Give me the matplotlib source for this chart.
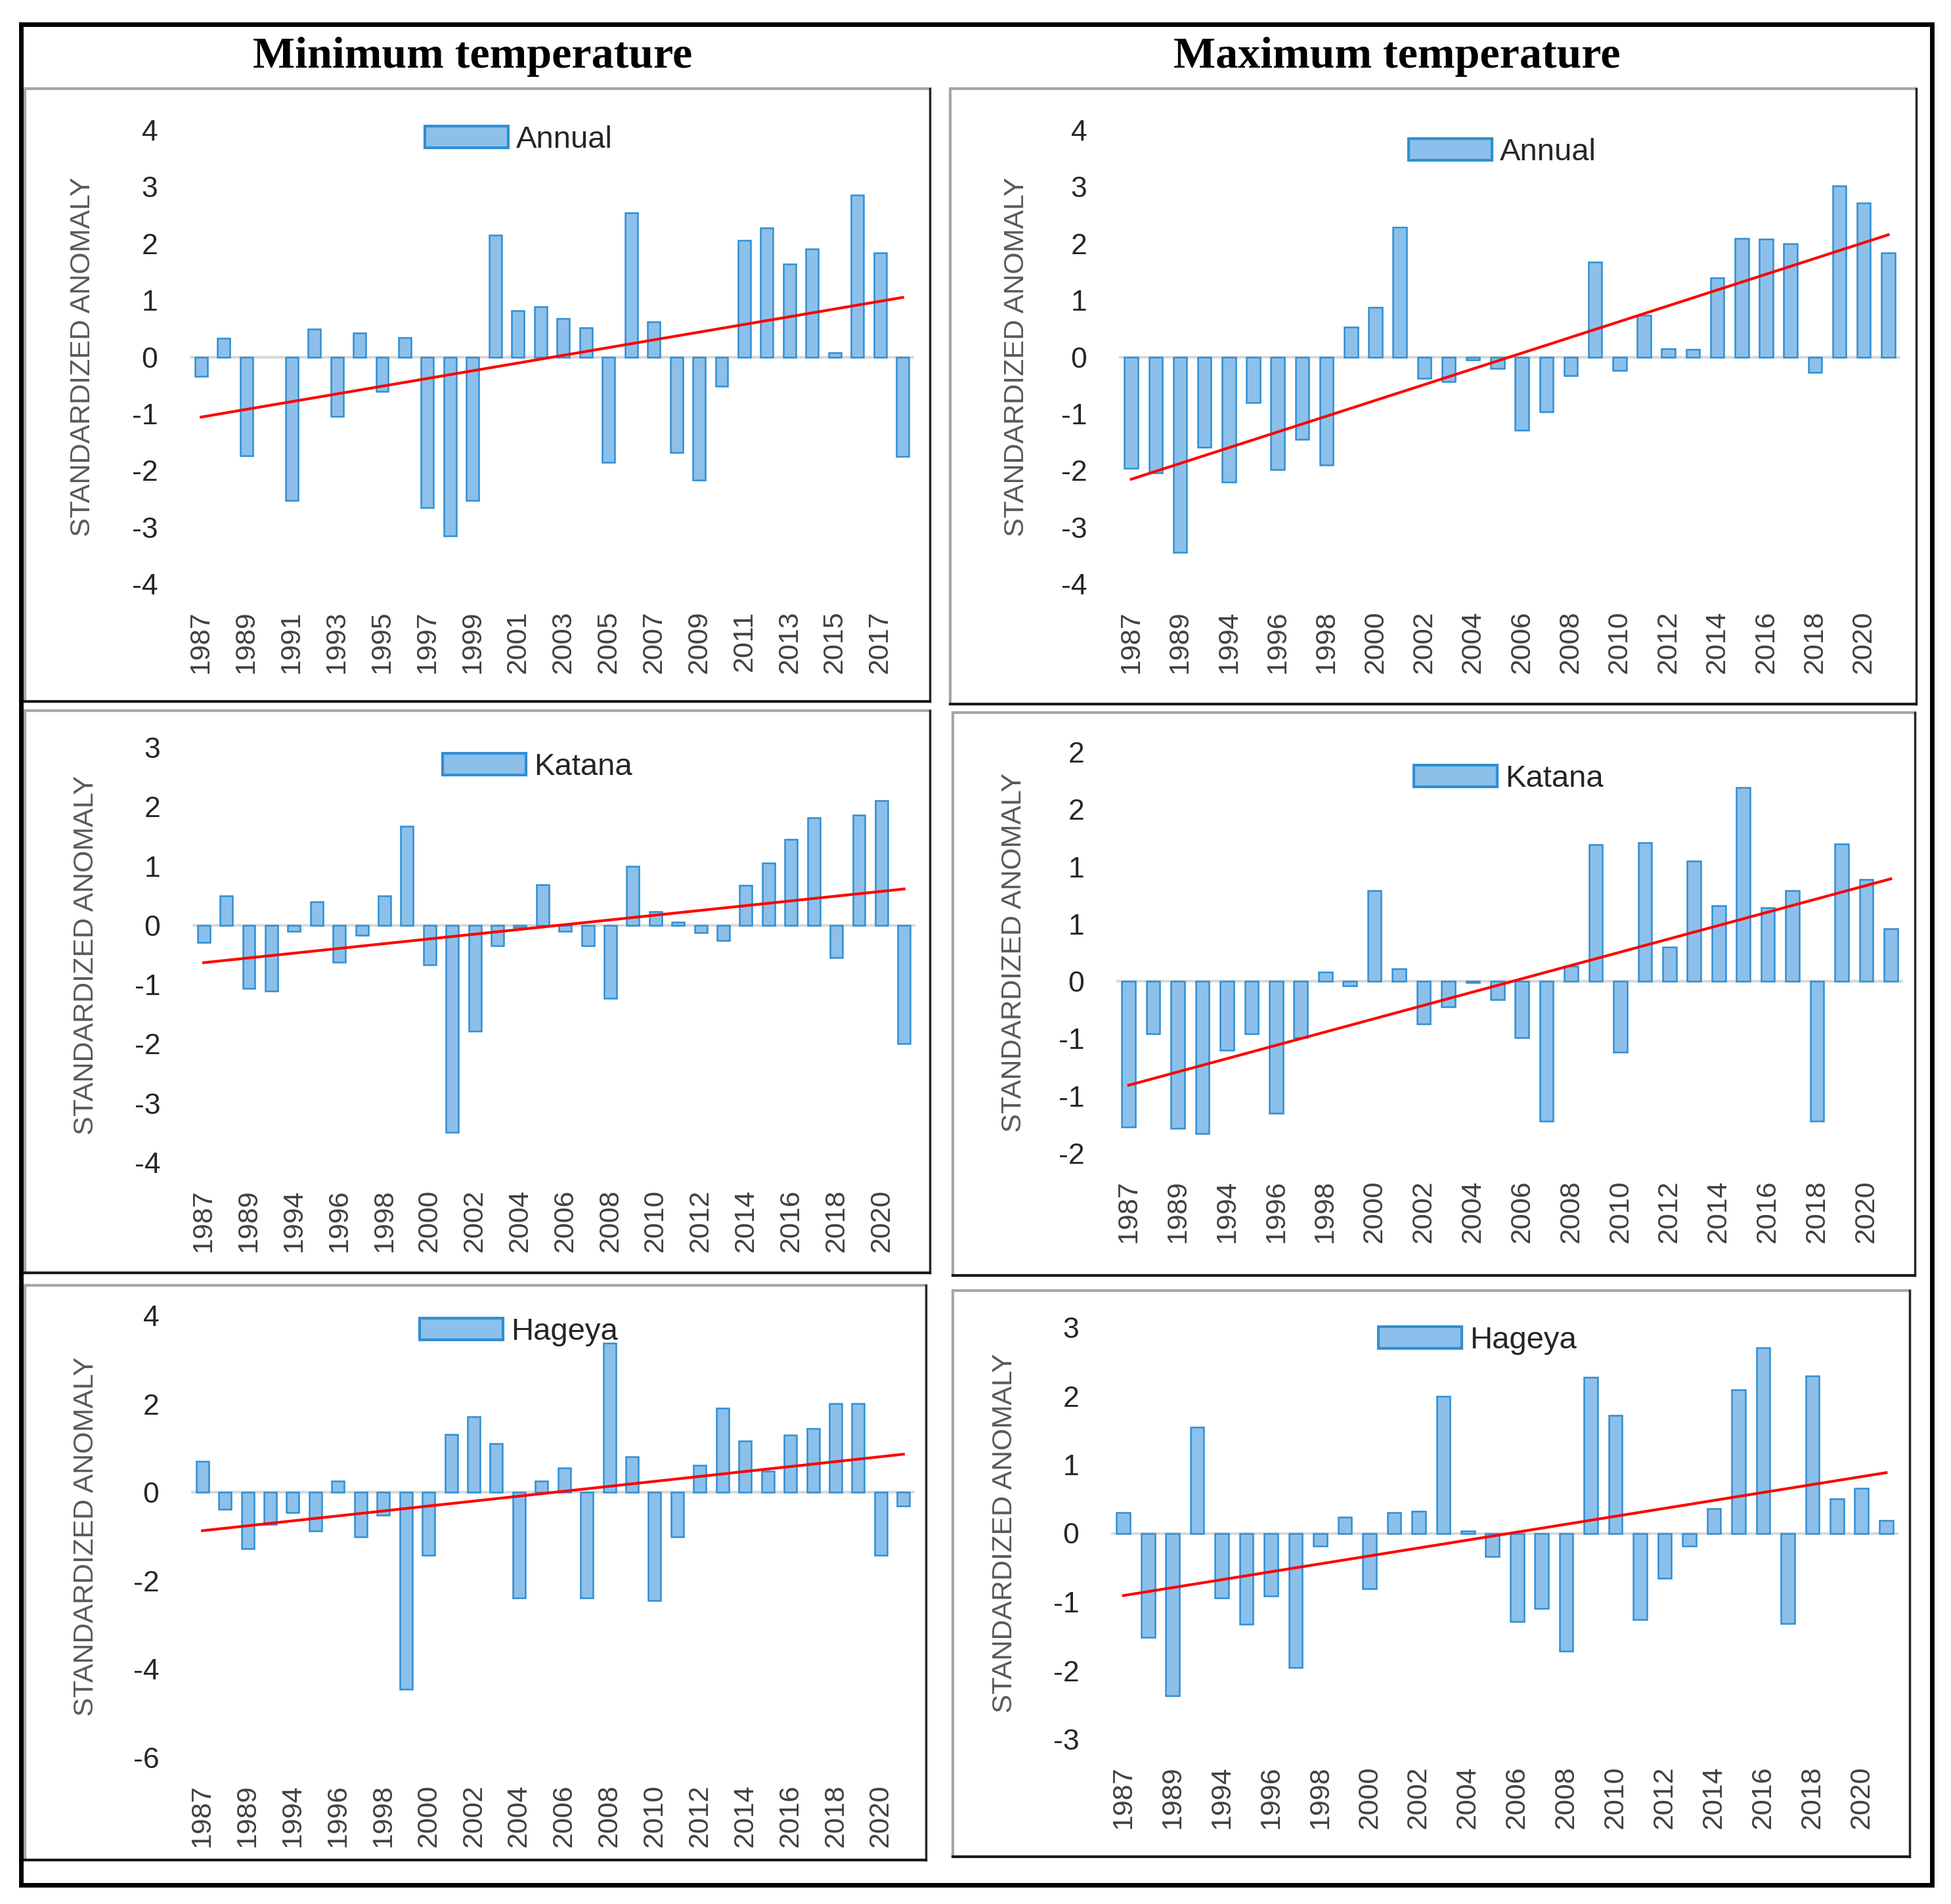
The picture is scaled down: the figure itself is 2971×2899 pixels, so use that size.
import numpy as np
import matplotlib
matplotlib.use("Agg")
import matplotlib.pyplot as plt
from matplotlib.patches import Patch
from matplotlib.lines import Line2D

# ---------------- data ----------------
years_min_annual = list(range(1987, 2019))
years_station = [1987, 1988, 1989, 1990] + list(range(1994, 2022))

min_annual = [-0.34, 0.33, -1.74, 0.0, -2.53, 0.49, -1.05, 0.42, -0.61, 0.34, -2.66, -3.16,
              -2.53, 2.15, 0.82, 0.88, 0.68, 0.51, -1.86, 2.54, 0.62, -1.69, -2.17, -0.51,
              2.06, 2.28, 1.64, 1.91, 0.08, 2.85, 1.84, -1.75]
max_annual = [-1.96, -2.04, -3.44, -1.59, -2.21, -0.80, -1.99, -1.45, -1.90, 0.53, 0.87, 2.29,
              -0.38, -0.43, -0.05, -0.20, -1.29, -0.97, -0.33, 1.67, -0.24, 0.73, 0.15, 0.13,
              1.40, 2.09, 2.08, 2.00, -0.27, 3.02, 2.72, 1.83]
min_katana = [-0.29, 0.50, -1.06, -1.11, -0.10, 0.40, -0.62, -0.17, 0.50, 1.67, -0.67, -3.49,
              -1.78, -0.35, -0.03, 0.69, -0.10, -0.35, -1.23, 1.00, 0.23, 0.05, -0.12, -0.26,
              0.67, 1.05, 1.45, 1.82, -0.54, 1.86, 2.10, -2.00]
max_katana = [-1.27, -0.46, -1.28, -1.33, -0.60, -0.46, -1.15, -0.49, 0.08, -0.04, 0.79, 0.11,
              -0.37, -0.22, -0.01, -0.16, -0.49, -1.22, 0.13, 1.19, -0.62, 1.21, 0.30, 1.05,
              0.66, 1.69, 0.64, 0.79, -1.22, 1.20, 0.89, 0.46]
min_hageya = [0.70, -0.39, -1.28, -0.72, -0.46, -0.87, 0.26, -1.00, -0.52, -4.45, -1.43, 1.31,
              1.71, 1.10, -2.39, 0.26, 0.55, -2.39, 3.37, 0.81, -2.45, -1.00, 0.61, 1.90,
              1.16, 0.48, 1.30, 1.45, 2.01, 2.01, -1.42, -0.31]
max_hageya = [0.30, -1.52, -2.37, 1.55, -0.94, -1.33, -0.91, -1.96, -0.19, 0.23, -0.81, 0.30,
              0.32, 2.00, 0.03, -0.34, -1.29, -1.10, -1.72, 2.27, 1.72, -1.26, -0.66, -0.19,
              0.36, 2.09, 2.70, -1.32, 2.29, 0.50, 0.66, 0.19]

series_names = ["Annual", "Annual", "Katana", "Katana", "Hageya", "Hageya"]
col_titles = ["Minimum temperature", "Maximum temperature"]
y_label = "STANDARDIZED ANOMALY"

ticks_a = [-4, -3, -2, -1, 0, 1, 2, 3, 4]
ticks_mk = [-4, -3, -2, -1, 0, 1, 2, 3]
ticks_xk = [-1.5, -1.0, -0.5, 0, 0.5, 1.0, 1.5, 2.0]
labels_xk = ["-2", "-1", "-1", "0", "1", "1", "2", "2"]
ticks_mh = [-6, -4, -2, 0, 2, 4]
ticks_xh = [-3, -2, -1, 0, 1, 2, 3]

# ---------------- layout (pixel units) ----------------
W, H = 2971, 2899
fig = plt.figure(figsize=(W / 100, H / 100), dpi=100)
fig.patch.set_facecolor("white")

def fx(x):
    return x / W

def fy(y):
    return 1 - y / H

FONT = ["Liberation Sans", "DejaVu Sans"]
BAR_FACE = "#8cc0ea"
BAR_EDGE = "#2f8fd3"

panels = [
    dict(y=min_annual, cats=years_min_annual, box=(289, 198, 1392, 889), ylim=(-4, 4),
         ticks=ticks_a, tl=None, leg=(790, 213), ylx=146),
    dict(y=max_annual, cats=years_station, box=(1704, 198, 2894, 889), ylim=(-4, 4),
         ticks=ticks_a, tl=None, leg=(2288, 232), ylx=1568),
    dict(y=min_katana, cats=years_station, box=(293, 1138, 1394, 1770), ylim=(-4, 3),
         ticks=ticks_mk, tl=None, leg=(818, 1168), ylx=151),
    dict(y=max_katana, cats=years_station, box=(1700, 1145, 2898, 1756), ylim=(-1.5, 2),
         ticks=ticks_xk, tl=labels_xk, leg=(2297, 1186), ylx=1564),
    dict(y=min_hageya, cats=years_station, box=(291, 2003, 1393, 2676), ylim=(-6, 4),
         ticks=ticks_mh, tl=None, leg=(790, 2028), ylx=151),
    dict(y=max_hageya, cats=years_station, box=(1692, 2021, 2891, 2648), ylim=(-3, 3),
         ticks=ticks_xh, tl=None, leg=(2250, 2041), ylx=1550),
]

for p, name in zip(panels, series_names):
    l, t, r, b = p["box"]
    ax = fig.add_axes([fx(l), fy(b), (r - l) / W, (b - t) / H])
    vals = np.array(p["y"], dtype=float)
    n = len(vals)
    x = np.arange(n)
    ax.axhline(0, color="#d9d9d9", lw=3, zorder=1)
    edges = [BAR_EDGE if v != 0 else "none" for v in vals]
    ax.bar(x, vals, width=0.55, color=BAR_FACE, edgecolor=edges, linewidth=1.8, zorder=2)
    k, c = np.polyfit(x, vals, 1)
    ax.plot([x[0], x[-1]], [c + k * x[0], c + k * x[-1]], color="#ff0000", lw=3, zorder=3)
    ax.set_xlim(-0.5, n - 0.5)
    ax.set_ylim(*p["ylim"])
    ax.set_yticks(p["ticks"])
    if p["tl"] is not None:
        ax.set_yticklabels(p["tl"])
    else:
        ax.set_yticklabels([str(v) for v in p["ticks"]])
    ax.set_xticks(x[::2])
    ax.set_xticklabels([str(c_) for c_ in p["cats"][::2]], rotation=90)
    for s in ax.spines.values():
        s.set_visible(False)
    ax.tick_params(axis="both", length=0)
    ax.tick_params(axis="y", pad=35, labelsize=32, labelcolor="#262626")
    ax.tick_params(axis="x", pad=29, labelsize=31, labelcolor="#404040")
    for lab in ax.get_xticklabels() + ax.get_yticklabels():
        lab.set_fontfamily(FONT)
    ax.set_ylabel(y_label, fontsize=31, color="#595959", family=FONT)
    ax.yaxis.set_label_coords((p["ylx"] - l) / (r - l), 0.5)
    lx, ly = p["leg"]
    handle = Patch(facecolor=BAR_FACE, edgecolor=BAR_EDGE, linewidth=3)
    leg = ax.legend(handles=[handle], labels=[name], loc="center",
                    bbox_to_anchor=((lx - l) / (r - l), (b - ly) / (b - t)),
                    frameon=False, fontsize=34, handlelength=2.7, handleheight=0.72,
                    handletextpad=0.25, borderpad=0)
    for txt in leg.get_texts():
        txt.set_fontfamily(FONT)
        txt.set_color("#262626")

# titles
fig.text(fx(720), fy(103), col_titles[0], ha="center", va="baseline",
         family=["Liberation Serif", "DejaVu Serif"], fontweight="bold", fontsize=49)
fig.text(fx(2127), fy(103), col_titles[1], ha="center", va="baseline",
         family=["Liberation Serif", "DejaVu Serif"], fontweight="bold", fontsize=49)

# panel frames
frames = [(38, 135, 1416, 1068), (1447, 135, 2918, 1072),
          (38, 1082, 1416, 1938), (1451, 1085, 2916, 1942),
          (38, 1957, 1410, 2832), (1451, 1965, 2908, 2827)]

def fline(x0, y0, x1, y1, color, lw):
    fig.add_artist(Line2D([fx(x0), fx(x1)], [fy(y0), fy(y1)], transform=fig.transFigure,
                          color=color, lw=lw, solid_capstyle="projecting"))

for (l, t, r, b) in frames:
    fline(l, t, r, t, "#a6a6a6", 3)
    fline(l, t, l, b, "#a6a6a6", 3)
    fline(r, t, r, b, "#262626", 2.5)
    fline(l, b, r, b, "#1a1a1a", 3)

# outer border
ol, ot, orr, ob = 32, 37, 2942, 2870
fline(ol, ot, orr, ot, "black", 5)
fline(ol, ob, orr, ob, "black", 5)
fline(ol, ot, ol, ob, "black", 5)
fline(orr, ot, orr, ob, "black", 5)

fig.savefig("out.png", dpi=100, facecolor="white")
